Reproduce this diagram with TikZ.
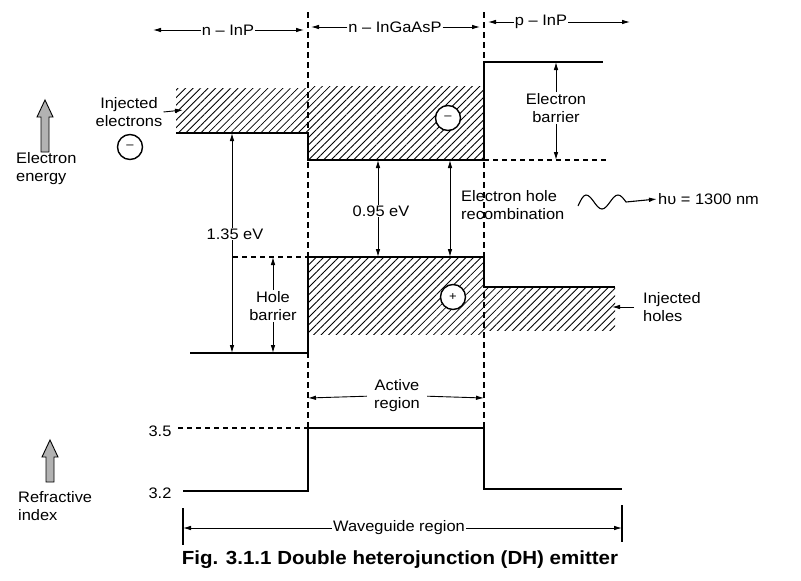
\documentclass[tikz,border=0pt]{standalone}
\usepackage{fontspec}
\setmainfont{Liberation Sans}[FakeStretch=1.08]
\usetikzlibrary{arrows.meta, patterns.meta, positioning}

\begin{document}
\begin{tikzpicture}[x=1pt, y=-1pt, >={Latex[length=8pt,width=4.6pt]},
    every node/.style={font=\fontsize{15.2}{18}\selectfont, inner sep=1pt},
    band/.style={line width=1.5pt},
    hatch/.style={pattern={Lines[angle=45,distance=5.3pt,line width=0.85pt]}},
    junction/.style={line width=1.1pt, dash pattern=on 6pt off 4pt},
    level/.style={line width=1.2pt, dash pattern=on 5pt off 4pt},
    dim/.style={line width=0.9pt},
    carrier/.style={circle, draw, line width=1.4pt, fill=white, minimum size=25pt,
        inner sep=0pt, font=\fontsize{12}{12}\selectfont},
    grayarrow/.style={draw, line width=0.9pt, fill=gray!60}]

    \useasboundingbox[fill=white] (0,0) rectangle (801,581);
    \def\xl{308}
    \def\xr{484}

    % 1. Lớp bán dẫn và mặt tiếp giáp
    \node (nInP) at (228,30) {n -- InP};
    \node (nGa) at (395,27) {n -- InGaAsP};
    \node (pInP) at (541,22) {p -- InP};
    \draw[dim,->] (nInP.west) -- (153,30);
    \draw[dim,->] (nInP.east) -- (304,30);
    \draw[dim,->] (nGa.west) -- (311,27);
    \draw[dim,->] (nGa.east) -- (480,27);
    \draw[dim,->] (pInP.west) -- (488,22);
    \draw[dim,->] (pInP.east) -- (630,22);

    \coordinate (jLt) at (\xl,12);
    \coordinate (jLb) at (\xl,428);
    \coordinate (jRt) at (\xr,12);
    \coordinate (jRb) at (\xr,428);
    \draw[junction] (jLt) -- (jLb);
    \draw[junction] (jRt) -- (jRb);

    % 2. Vùng dẫn và vùng hóa trị (gạch chéo)
    \fill[hatch] (176,88) rectangle (\xl,133);
    \fill[hatch] (\xl,86) rectangle (\xr,160);
    \fill[hatch] (\xl,257) rectangle (\xr,334);
    \fill[hatch] (\xr,287) rectangle (615,330);

    \draw[band] (176,133) -- (\xl,133) -- (\xl,160) -- (\xr,160) -- (\xr,62) -- (603,62);
    \draw[level] (\xr,160) -- (606,160);
    \draw[band] (190,353) -- (\xl,353) -- (\xl,257) -- (\xr,257) -- (\xr,287) -- (615,287);
    \draw[level] (233,257) -- (\xl,257);

    % 3. Hạt tải điện
    \node[carrier] (eL) at (130,147) {--};
    \node[carrier] (eA) at (448,118) {--};
    \node[carrier] (hA) at (453,297) {+};

    \node[align=center] (injE) at (129,112) {Injected\\electrons};
    \draw[dim,->] (injE.east) -- (183,110);
    \node[align=left, anchor=west] (injH) at (642,307) {Injected\\holes};
    \draw[dim,->, shorten <=8pt] (injH.west) -- (612,307);

    % 4. Khoảng năng lượng
    \draw[dim,<->] (232,133) -- (232,353);
    \node[fill=white] (e135) at (235,234) {1.35 eV};
    \draw[dim,<->] (378,160) -- (378,257);
    \node[fill=white] (e095) at (381,211) {0.95 eV};
    \draw[dim,<->] (450,160) -- (450,257);
    \node[align=left, anchor=west] (rec) at (460,205) {Electron hole\\recombination};

    \node[align=center] (eb) at (556,108) {Electron\\barrier};
    \draw[dim,->] (eb.north) -- (556,62);
    \draw[dim,->] (eb.south) -- (556,160);
    \node[align=center] (hb) at (273,306) {Hole\\barrier};
    \draw[dim,->] (hb.north) -- (273,257);
    \draw[dim,->] (hb.south) -- (273,353);

    % 5. Photon
    \node[anchor=west] (hv) at (657,199) {hυ = 1300 nm};
    \draw[line width=1.1pt,->] (578,206) sin (586,195) cos (594,202) sin (602,209) cos (610,202)
        sin (618,195) cos (626,202) -- (hv.west);

    % 6. Trục năng lượng và chiết suất
    \foreach \ax/\at/\ab in {45/100/152, 50/440/482} {
        \draw[grayarrow] (\ax,\at) -- (\ax+8,\at+17) -- (\ax+4,\at+17) -- (\ax+4,\ab)
            -- (\ax-4,\ab) -- (\ax-4,\at+17) -- (\ax-8,\at+17) -- cycle;
    }
    \node[align=left, anchor=west] (eng) at (15,169) {Electron\\energy};
    \node[align=left, anchor=west] (ri) at (17,506) {Refractive\\index};

    % 7. Chiết suất
    \node (n35) at (160,431) {3.5};
    \node (n32) at (160,493) {3.2};
    \draw[level] (178,428) -- (\xl,428);
    \draw[band] (183,491) -- (\xl,491) -- (\xl,428) -- (\xr,428) -- (\xr,489) -- (622,489);

    \node[align=center] (act) at (397,396) {Active\\region};
    \draw[dim,->, shorten <=6pt] (act.west) -- (\xl,398);
    \draw[dim,->, shorten <=6pt] (act.east) -- (\xr,398);

    \node (wg) at (399,528) {Waveguide region};
    \draw[line width=1.2pt] (183,508) -- (183,545);
    \draw[line width=1.2pt] (622,505) -- (622,542);
    \draw[dim,->] (wg.west) -- (183,528);
    \draw[dim,->] (wg.east) -- (622,528);

    \node[font=\fontsize{19}{21}\selectfont\bfseries] (cap) at (400,560)
        {Fig. 3.1.1 Double heterojunction (DH) emitter};
\end{tikzpicture}
\end{document}
